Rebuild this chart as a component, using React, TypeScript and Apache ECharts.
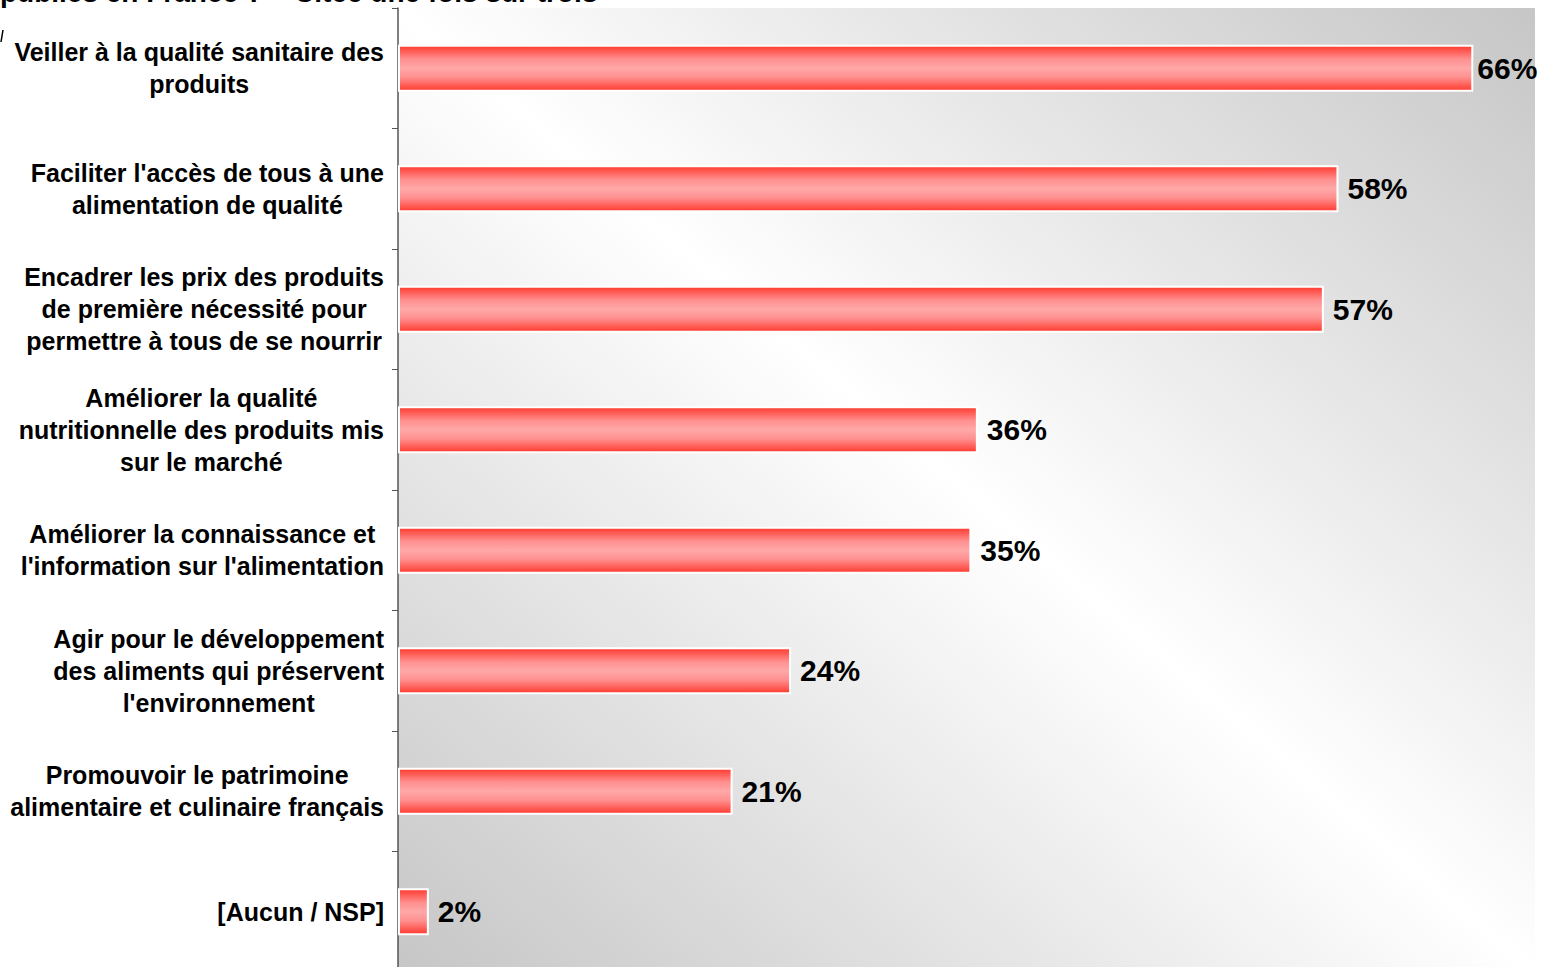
import React, { useEffect, useRef } from "react";
import * as echarts from "echarts";

const categories = [
  "Veiller à la qualité sanitaire des\nproduits",
  "Faciliter l'accès de tous à une\nalimentation de qualité",
  "Encadrer les prix des produits\nde première nécessité pour\npermettre à tous de se nourrir",
  "Améliorer la qualité\nnutritionnelle des produits mis\nsur le marché",
  "Améliorer la connaissance et\nl'information sur l'alimentation",
  "Agir pour le développement\ndes aliments qui préservent\nl'environnement",
  "Promouvoir le patrimoine\nalimentaire et culinaire français",
  "[Aucun / NSP]",
];
const values = [66.2, 57.9, 57.0, 35.7, 35.3, 24.2, 20.6, 1.9];
const valueLabels = ["66%", "58%", "57%", "36%", "35%", "24%", "21%", "2%"];
const titleText = "publics en France ? – Citée une fois sur trois";

const FONT = "'Liberation Sans', Arial, Helvetica, sans-serif";

export default function App() {
  const ref = useRef<HTMLDivElement>(null);
  useEffect(() => {
    document.body.style.margin = "0";
    const chart = echarts.init(ref.current!, null, { renderer: "svg" });
    chart.setOption({
      animation: false,
      backgroundColor: "#ffffff",
      grid: {
        left: 398,
        top: 8,
        width: 1137,
        height: 964,
        containLabel: false,
        outerBoundsMode: "none",
        show: true,
        borderWidth: 0,
        backgroundColor: new echarts.graphic.LinearGradient(1, 0, 0, 1, [
          { offset: 0, color: "#c6c6c6" },
          { offset: 0.5, color: "#ffffff" },
          { offset: 1, color: "#c6c6c6" },
        ]),
      },
      xAxis: {
        type: "value",
        min: 0,
        max: 70,
        show: false,
        splitLine: { show: false },
      },
      yAxis: {
        type: "category",
        inverse: true,
        data: categories,
        axisLine: { show: true, lineStyle: { color: "#555555", width: 1.5 } },
        axisTick: { show: true, length: 6, lineStyle: { color: "#555555", width: 1 } },
        axisLabel: {
          margin: 14,
          formatter: (v: string) =>
            v
              .split("\n")
              .map((l) => `{a|${l}}`)
              .join("\n"),
          rich: {
            a: {
              align: "center",
              fontSize: 25,
              fontWeight: "bold",
              fontFamily: FONT,
              color: "#000000",
              lineHeight: 32,
            },
          },
        },
      },
      series: [
        {
          type: "bar",
          data: values.map((v, i) =>
            i === 0 ? { value: v, label: { distance: 4 } } : v
          ),
          barWidth: 47,
          itemStyle: {
            borderColor: "#ffffff",
            borderWidth: 2,
            color: new echarts.graphic.LinearGradient(0, 0, 0, 1, [
              { offset: 0, color: "#ff3a2e" },
              { offset: 0.3, color: "#ff9090" },
              { offset: 0.5, color: "#ffa8a8" },
              { offset: 0.7, color: "#ff9090" },
              { offset: 1, color: "#ff3a2e" },
            ]),
          },
          label: {
            show: true,
            position: "right",
            distance: 9,
            formatter: (p: any) => valueLabels[p.dataIndex],
            fontSize: 30,
            fontWeight: "bold",
            fontFamily: FONT,
            color: "#000000",
          },
        },
      ],
      graphic: [
        {
          type: "text",
          left: 0,
          top: -22,
          style: {
            text: titleText,
            fontSize: 28,
            fontWeight: "bold",
            fontFamily: FONT,
            fill: "#000000",
          },
        },
        {
          type: "line",
          shape: { x1: 3, y1: 30, x2: 1, y2: 42 },
          style: { stroke: "#000000", lineWidth: 1.5 },
        },
      ],
    });
    return () => chart.dispose();
  }, []);
  return <div ref={ref} style={{ width: 1542, height: 967 }} />;
}
